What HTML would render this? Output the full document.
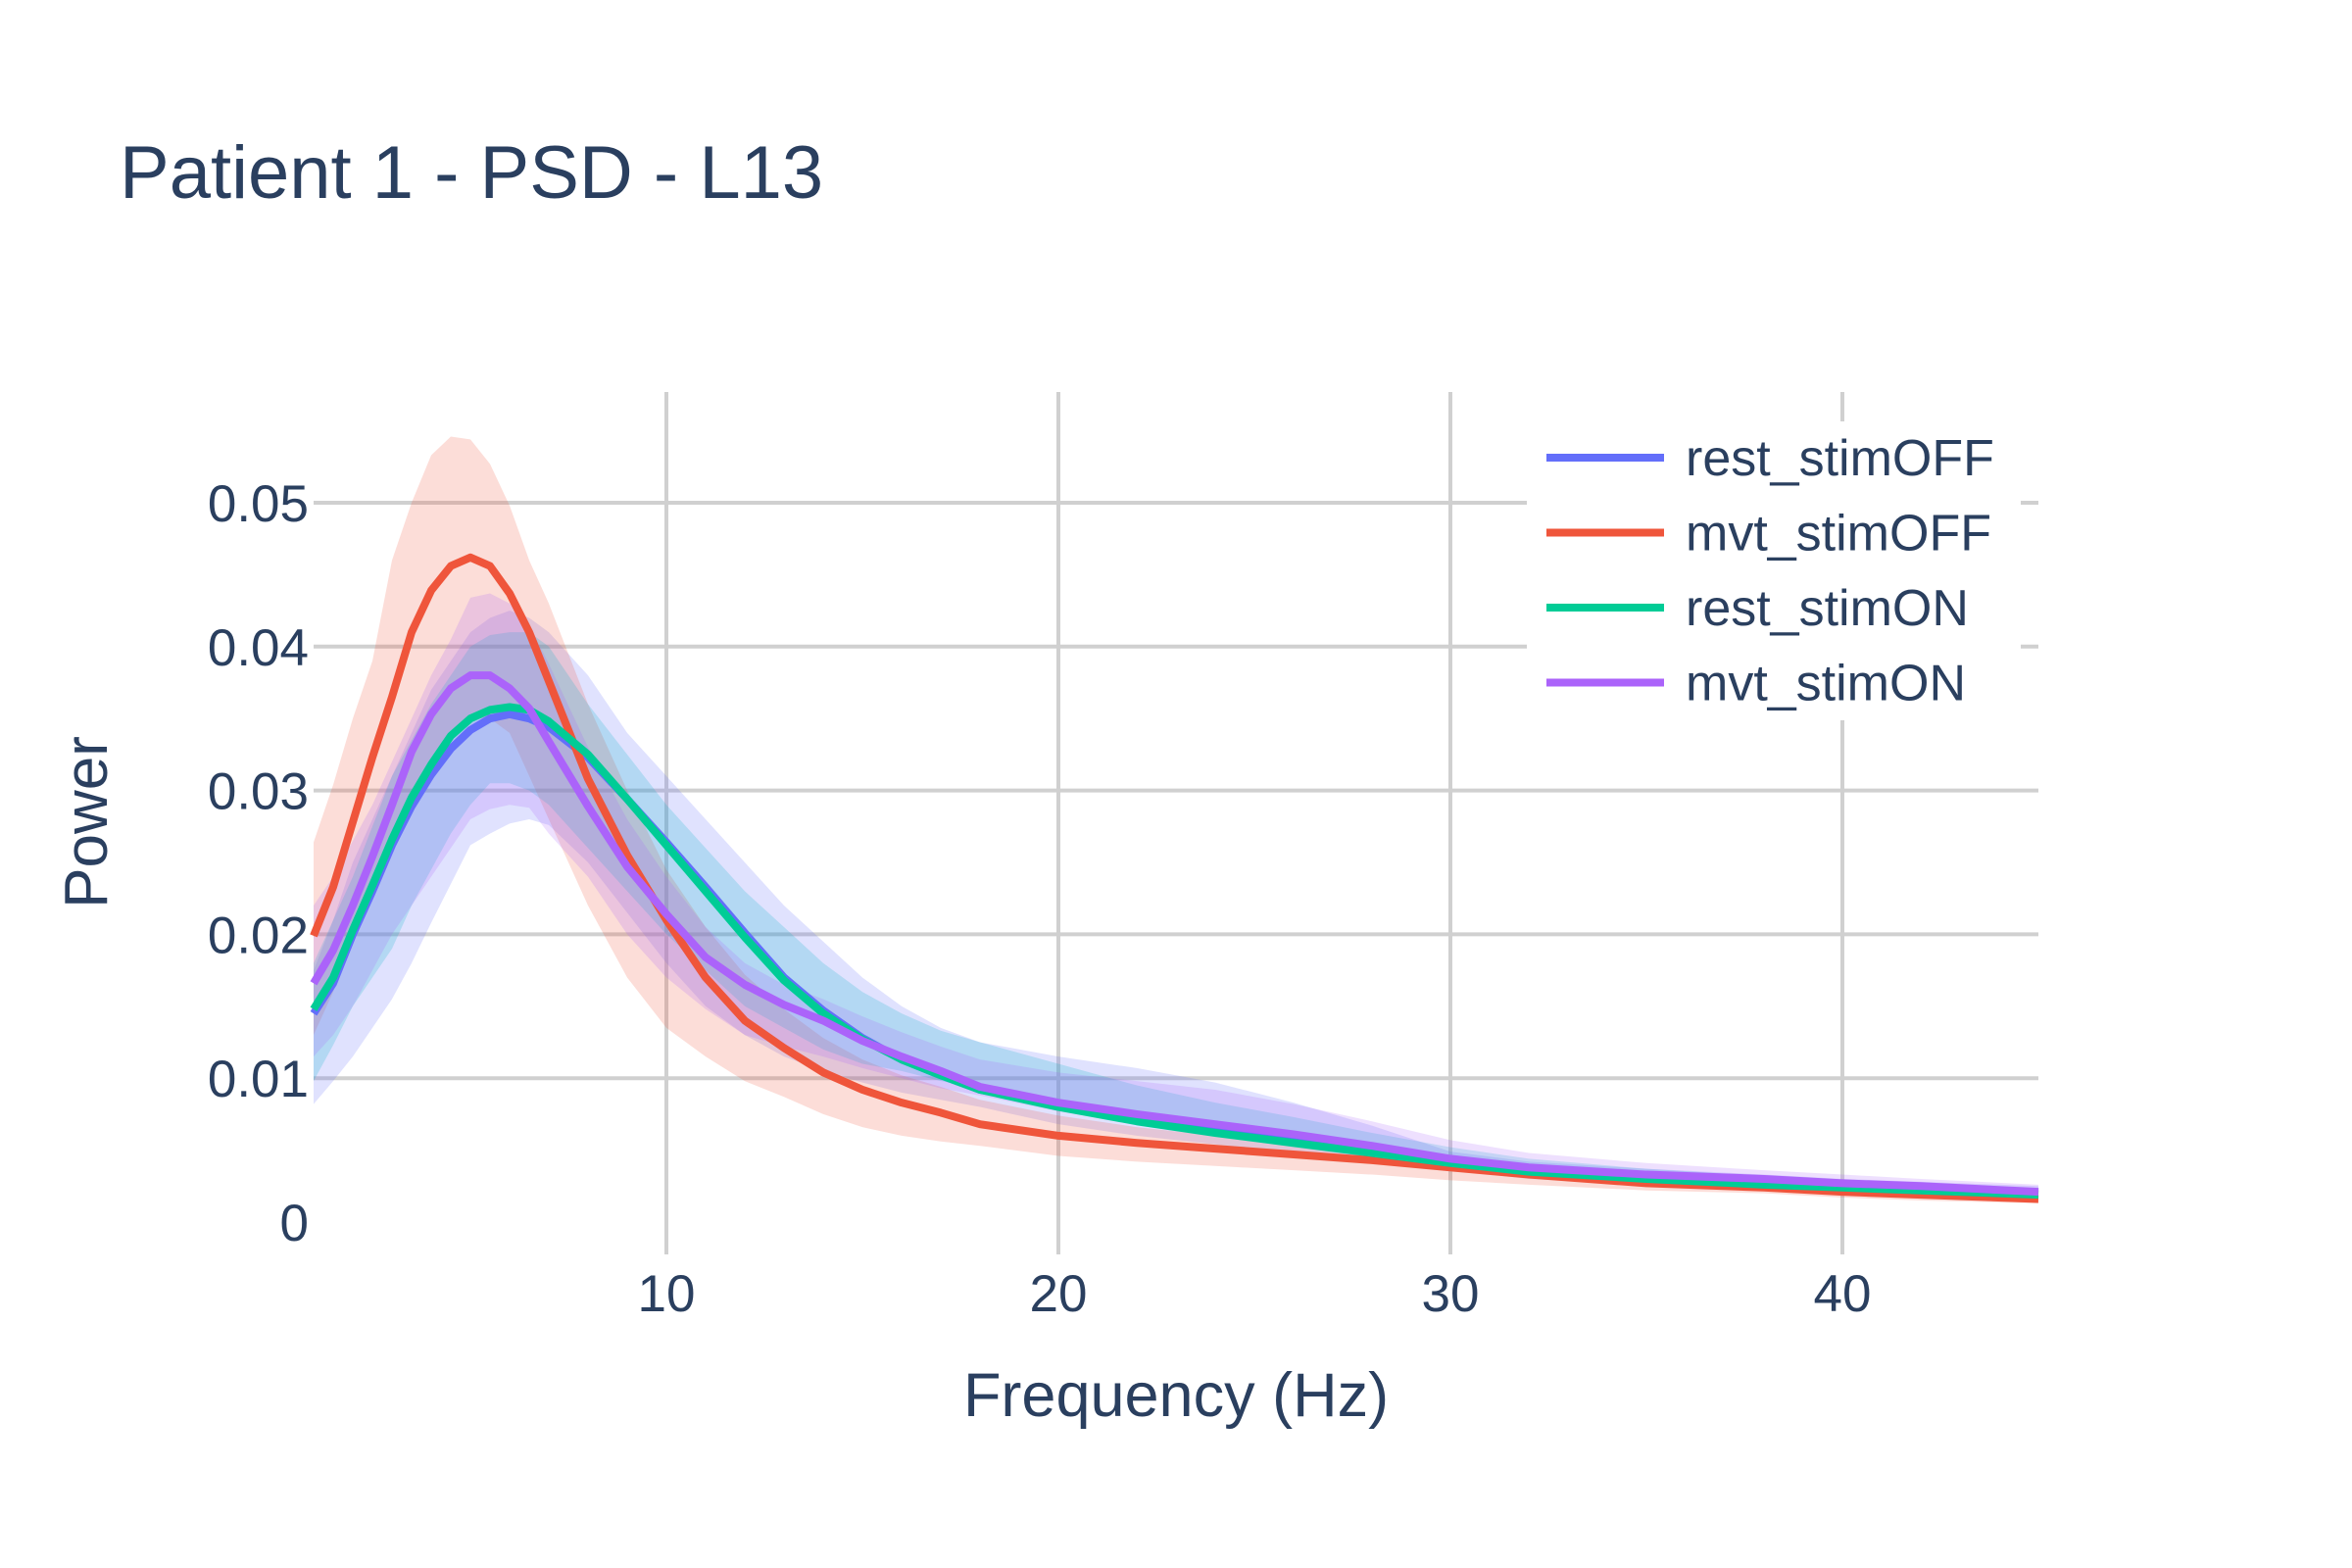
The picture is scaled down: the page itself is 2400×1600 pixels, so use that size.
<!DOCTYPE html>
<html><head><meta charset="utf-8">
<style>
html,body{margin:0;padding:0;background:#fff;}
svg{display:block;font-family:"Liberation Sans",sans-serif;}
</style></head>
<body>
<svg id="chart" width="2400" height="1600" viewBox="0 0 2400 1600" xmlns="http://www.w3.org/2000/svg">
<rect x="0" y="0" width="2400" height="1600" fill="#fff"/>
<g id="grid"></g>
<g id="bands"></g>
<g id="lines"></g>
<g id="ticks"></g>
<text x="122" y="202" font-size="76" fill="#2a3f5f">Patient 1 - PSD - L13</text>
<text x="1200" y="1445" font-size="63" fill="#2a3f5f" text-anchor="middle">Frequency (Hz)</text>
<text x="0" y="0" font-size="62" fill="#2a3f5f" text-anchor="middle" transform="translate(109,839) rotate(-90)">Power</text>
<g id="legend"></g>
</svg>
<script>
const freqs = [1,1.5,2,2.5,3,3.5,4,4.5,5,5.5,6,6.5,7,8,9,10,11,12,13,14,15,16,17,18,20,22,24,26,28,30,32,35,38,40,42,45];
const seriesNames = ["rest_stimOFF","mvt_stimOFF","rest_stimON","mvt_stimON"];
const blueMean = [.0145,.0166,.020,.023,.0262,.0289,.0311,.0329,.0342,.035,.0353,.035,.0344,.0323,.0294,.0264,.0233,.0201,.017,.0147,.0128,.0113,.0102,.0092,.0082,.0074,.0067,.006,.0051,.0042,.0036,.0031,.0028,.0025,.0023,.002];
const blueHi = [.0175,.021,.025,.028,.031,.034,.037,.039,.041,.042,.0425,.042,.041,.038,.034,.031,.028,.025,.022,.0195,.017,.015,.0135,.0125,.0115,.0107,.0097,.0083,.0067,.0049,.0042,.0037,.0033,.003,.0028,.0025];
const blueLo = [.0082,.0098,.0115,.0135,.0155,.018,.0208,.0235,.0262,.027,.0277,.028,.0276,.025,.0215,.018,.015,.013,.0115,.0105,.0097,.009,.0085,.008,.0068,.006,.0054,.0048,.0042,.0036,.003,.0026,.0023,.0021,.0019,.0016];
const redMean = [.0199,.0233,.0278,.0323,.0365,.041,.0439,.0456,.0462,.0456,.0437,.041,.0376,.0308,.0255,.021,.017,.014,.0121,.0104,.0092,.0083,.0076,.0068,.006,.0055,.0051,.0047,.0043,.0038,.0033,.0027,.0024,.0021,.0019,.0016];
const redHi = [.0264,.0304,.035,.039,.046,.050,.0533,.0546,.0544,.0527,.0498,.046,.043,.036,.030,.0245,.0205,.0172,.0148,.0128,.0113,.0102,.0094,.0085,.0074,.0066,.006,.0055,.005,.0044,.0038,.0032,.0028,.0025,.0023,.0019];
const redLo = [.013,.016,.020,.023,.026,.029,.032,.034,.035,.035,.034,.031,.028,.022,.017,.0135,.0115,.0098,.0087,.0075,.0066,.006,.0056,.0053,.0046,.0042,.0039,.0036,.0033,.0029,.0026,.0022,.002,.0017,.0015,.0013];
const greenMean = [.0148,.017,.0203,.0234,.0266,.0295,.0318,.0338,.035,.0356,.0358,.0356,.0348,.0325,.0294,.0262,.023,.0198,.0168,.0145,.0127,.0113,.0102,.0092,.008,.007,.0062,.0055,.0048,.0041,.0035,.003,.0026,.0024,.0022,.0019];
const greenHi = [.018,.021,.024,.0275,.031,.0335,.036,.038,.040,.0408,.041,.041,.040,.036,.0325,.029,.026,.023,.0205,.018,.016,.0145,.0133,.0125,.011,.0095,.0083,.0073,.0062,.0052,.0044,.0037,.0032,.0029,.0027,.0023];
const greenLo = [.0098,.0123,.015,.017,.019,.022,.0245,.027,.029,.0305,.0305,.030,.029,.026,.023,.020,.0175,.015,.0135,.012,.011,.0105,.0098,.0093,.0078,.0068,.006,.0052,.0045,.0038,.0032,.0027,.0024,.0022,.002,.0017];
const purpleMean = [.0166,.0189,.022,.0254,.029,.0327,.0353,.0371,.038,.038,.0371,.0357,.0334,.0289,.0247,.0214,.0184,.0165,.0151,.014,.0126,.0115,.0105,.0094,.0083,.0075,.0068,.0061,.0053,.0044,.0038,.0033,.003,.0027,.0025,.0021];
const purpleHi = [.022,.024,.0265,.029,.032,.035,.038,.0405,.0434,.0437,.043,.0415,.0388,.033,.028,.024,.0205,.018,.0165,.0155,.0143,.0132,.0122,.0113,.0104,.0098,.0092,.0082,.007,.0057,.0048,.0041,.0036,.0033,.003,.0026];
const purpleLo = [.0115,.013,.015,.0175,.020,.022,.024,.026,.028,.0287,.029,.0288,.027,.024,.020,.017,.0148,.013,.0122,.0115,.0107,.01,.0093,.0088,.0077,.0068,.0061,.0054,.0047,.004,.0034,.0029,.0026,.0024,.0022,.0019];
const xTicks = [10,20,30,40];
const xTickLabels = ["10","20","30","40"];
const yTicks = [0,0.01,0.02,0.03,0.04,0.05];
const yTickLabels = ["0","0.01","0.02","0.03","0.04","0.05"];

const NS = "http://www.w3.org/2000/svg";
const PL = 320, PR = 2080, PT = 400, PB = 1280;
function xs(f){ return 680 + (f - 10) * 40; }
function ys(v){ return 1247 - v * 14680; }
function mk(tag, attrs, parent){ const e = document.createElementNS(NS, tag); for (const k in attrs) e.setAttribute(k, attrs[k]); parent.appendChild(e); return e; }

const grid = document.getElementById('grid');
const ticks = document.getElementById('ticks');
yTicks.forEach((v, i) => {
  if (v > 0) {
    const l = mk('line', {x1:PL, x2:PR, y1:ys(v), y2:ys(v), stroke:'#d0d0d0', 'stroke-width':4}, grid);
    
    
  }
  const t = mk('text', {x:315, y:ys(v)+19, 'font-size':53, fill:'#2a3f5f', 'text-anchor':'end'}, ticks);
  t.textContent = yTickLabels[i];
  
  
});
xTicks.forEach((f, i) => {
  const l = mk('line', {x1:xs(f), x2:xs(f), y1:PT, y2:PB, stroke:'#d0d0d0', 'stroke-width':4}, grid);
  
  
  const t = mk('text', {x:xs(f), y:1338, 'font-size':53, fill:'#2a3f5f', 'text-anchor':'middle'}, ticks);
  t.textContent = xTickLabels[i];
  
  
});

const series = [
  {mean:blueMean, hi:blueHi, lo:blueLo, line:'#636efa', fill:'rgba(99,110,250,0.2)'},
  {mean:redMean, hi:redHi, lo:redLo, line:'#ef553b', fill:'rgba(239,85,59,0.2)'},
  {mean:greenMean, hi:greenHi, lo:greenLo, line:'#00cc96', fill:'rgba(0,180,200,0.2)'},
  {mean:purpleMean, hi:purpleHi, lo:purpleLo, line:'#ab63fa', fill:'rgba(171,99,250,0.2)'}
];
const bands = document.getElementById('bands');
const lines = document.getElementById('lines');
series.forEach((s, si) => {
  let d = '';
  freqs.forEach((f, i) => { d += (i ? 'L' : 'M') + xs(f) + ',' + ys(s.hi[i]); });
  for (let i = freqs.length - 1; i >= 0; i--) d += 'L' + xs(freqs[i]) + ',' + ys(s.lo[i]);
  const b = mk('path', {d:d + 'Z', fill:s.fill, stroke:'none'}, bands);
  
  
  const pts = freqs.map((f, i) => xs(f) + ',' + ys(s.mean[i])).join(' ');
  const p = mk('polyline', {points:pts, fill:'none', stroke:s.line, 'stroke-width':8, 'stroke-linejoin':'round'}, lines);
  
  
});

const legend = document.getElementById('legend');
const lbg = mk('rect', {x:1558, y:430, width:504, height:305, fill:'#fff'}, legend);


series.forEach((s, si) => {
  const cy = 467 + si * 76.5;
  const g = mk('g', {}, legend);
  
  
  mk('line', {x1:1578, x2:1698, y1:cy, y2:cy, stroke:s.line, 'stroke-width':8}, g);
  const t = mk('text', {x:1720, y:cy+18, 'font-size':52, fill:'#2a3f5f'}, g);
  t.textContent = seriesNames[si];
});
</script>
</body></html>
